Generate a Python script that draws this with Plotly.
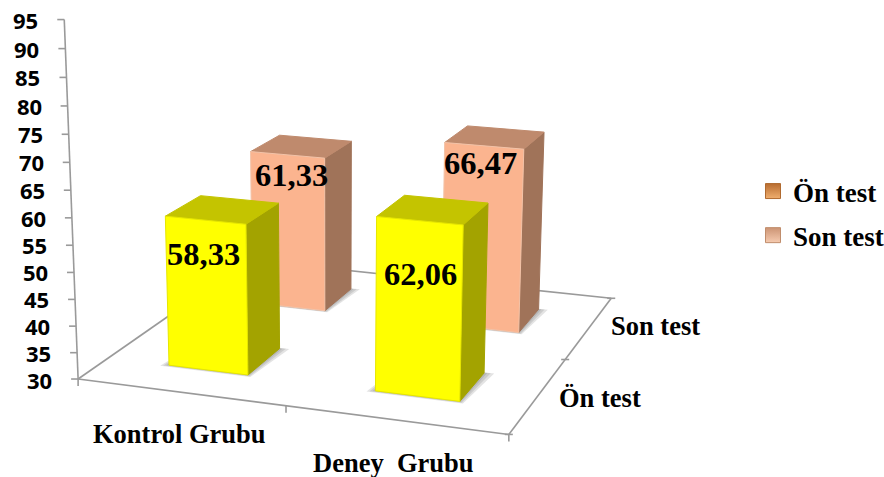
import numpy as np
import plotly.graph_objects as go

groups = ["Kontrol Grubu", "Deney\u00a0 Grubu"]
series = ["Ön test", "Son test"]
on_test = [58.33, 62.06]
son_test = [61.33, 66.47]
axis_ticks = list(range(30, 100, 5))

# Perspective camera for the floor (x, y in 0..2) and the value axis (30..95)
CAMERA = np.array([
    [198.31373120557254, 111.41211705301428, -17.17306749921971, 78.11353525891967],
    [13.149302448733764, -32.458058338929305, -360.45615058551635, 379.01782998320124],
    [-0.03349908515899025, 0.10411132587542915, -0.05159976451388886, 1.0],
])
BAR_W = 0.195
BAR_D = 0.194
AXIS_COLOR = "#9a9a9a"
YELLOW = dict(front="#FFFF00", side="#A3A300", top="#C4C400", rim="#E6E600")
PEACH = dict(front="#FBB48F", side="#A07359", top="#BF8A6D", rim="#F3C3A8")


def project(x, y, z):
    h = CAMERA @ np.array([x, y, (z - 30) / 65, 1.0])
    return float(h[0] / h[2]), float(h[1] / h[2])


def face(corners, fill, line, width=1):
    pts = [project(*c) for c in corners]
    pts.append(pts[0])
    return go.Scatter(
        x=[p[0] for p in pts], y=[p[1] for p in pts], mode="lines", fill="toself",
        fillcolor=fill, line=dict(color=line, width=width), showlegend=False, hoverinfo="skip",
    )


def segments(pairs, color=AXIS_COLOR, width=1.6):
    xs, ys = [], []
    for a, b in pairs:
        xs += [a[0], b[0], None]
        ys += [a[1], b[1], None]
    return go.Scatter(x=xs, y=ys, mode="lines", line=dict(color=color, width=width),
                      showlegend=False, hoverinfo="skip")


fig = go.Figure()

# Far edges of the floor sit behind the bars
fig.add_trace(segments([(project(0, 0, 30), project(0, 2, 30)), (project(0, 2, 30), project(2, 2, 30))]))


def draw_bar(cx, cy, v, c):
    x0, x1, y0, y1 = cx - BAR_W, cx + BAR_W, cy - BAR_D, cy + BAR_D
    # Soft contact shadow built from stacked translucent layers
    for m in (0.1, 0.065, 0.03):
        fig.add_trace(face(
            [(x0 - m * .35, y0 - m * .2, 30), (x1 + m * .2, y0 - m * .2, 30),
             (x1 + m * .45, y1 + m * .1, 30), (x0, y1, 30)],
            "rgba(90,90,90,0.17)", "rgba(0,0,0,0)", 0))
    fig.add_trace(face([(x1, y0, 30), (x1, y1, 30), (x1, y1, v), (x1, y0, v)], c["side"], c["side"]))
    fig.add_trace(face([(x0, y0, v), (x1, y0, v), (x1, y1, v), (x0, y1, v)], c["top"], c["top"]))
    fig.add_trace(face([(x0, y0, 30), (x1, y0, 30), (x1, y0, v), (x0, y0, v)], c["front"], c["rim"]))


for i, v in enumerate(son_test):
    draw_bar(i + .5, 1.5, v, PEACH)
for i, v in enumerate(on_test):
    draw_bar(i + .5, .5, v, YELLOW)

# Near axes and tick marks
A, TOP, B, C = project(0, 0, 30), project(0, 0, 95), project(2, 0, 30), project(2, 2, 30)
fig.add_trace(segments([(A, TOP), (A, B), (B, C)]))
ticks = []
for t in axis_ticks:
    p = project(0, 0, t)
    ticks.append((p, (p[0] - 7, p[1])))
for i in range(3):
    p = project(i, 0, 30)
    ticks.append((p, (p[0], p[1] + 7)))
for j in range(3):
    p = project(2, j, 30)
    ticks.append(((p[0] - 4, p[1]), (p[0] + 4, p[1])))
fig.add_trace(segments(ticks))

# Legend entries
fig.add_trace(go.Scatter(x=[None], y=[None], name=series[0], legendgroup="a", mode="markers",
                         marker=dict(symbol="square", size=15, color="#B86C30",
                                     gradient=dict(type="vertical", color="#EFAE6E"),
                                     line=dict(color="#B06A30", width=1))))
fig.add_trace(go.Scatter(x=[None], y=[None], name=series[1], legendgroup="b", mode="markers",
                         marker=dict(symbol="square", size=15, color="#CC9474",
                                     gradient=dict(type="vertical", color="#F6CBB0"),
                                     line=dict(color="#C08D6C", width=1))))

# Text placed through the same camera
notes = []
for t in axis_ticks:
    p = project(0, 0, t)
    notes.append(dict(x=p[0], y=p[1], text=str(t), xanchor="right", yanchor="middle", xshift=-24,
                      yshift=-1 if t == 30 else 0, showarrow=False,
                      font=dict(family="Open Sans", size=22, color="#000", weight="bold")))
serif = dict(family="Liberation Serif", size=26.5, color="#000", weight="bold")
for i, (g, dx, drop) in enumerate(zip(groups, [-1, -2], [42, 43])):
    p = project(i + .5, 0, 30)
    notes.append(dict(x=p[0], y=p[1], text=g, xshift=dx, yshift=-drop, showarrow=False, font=serif))
for j, (s, dx, dy) in enumerate(zip(series, [62, 66], [-3, 1])):
    p = project(2, j + .5, 30)
    notes.append(dict(x=p[0], y=p[1], text=s, xshift=dx, yshift=dy, showarrow=False, font=serif))
value_font = dict(family="Liberation Serif", size=32.5, color="#000", weight="bold")
for y_pos, vals, shifts in [(.5, on_test, [(-2, 34), (1, 53)]), (1.5, son_test, [(4, 20), (-3, 17)])]:
    for i, (v, (dx, drop)) in enumerate(zip(vals, shifts)):
        p = project(i + .5, y_pos - BAR_D, v)
        notes.append(dict(x=p[0], y=p[1], text=f"{v:.2f}".replace(".", ","), xshift=dx, yshift=-drop,
                          showarrow=False, font=value_font))

fig.update_layout(
    width=884, height=477, margin=dict(l=0, r=0, t=0, b=0, autoexpand=False),
    paper_bgcolor="white", plot_bgcolor="white",
    xaxis=dict(range=[0, 884], visible=False),
    yaxis=dict(range=[477, 0], visible=False),
    annotations=notes,
    legend=dict(x=753 / 884, y=1 - 167 / 477, xanchor="left", yanchor="top",
                font=dict(family="Liberation Serif", size=27, color="#000", weight="bold"),
                bgcolor="rgba(0,0,0,0)", tracegroupgap=6, itemwidth=30),
)
fig.write_html("out.html")
